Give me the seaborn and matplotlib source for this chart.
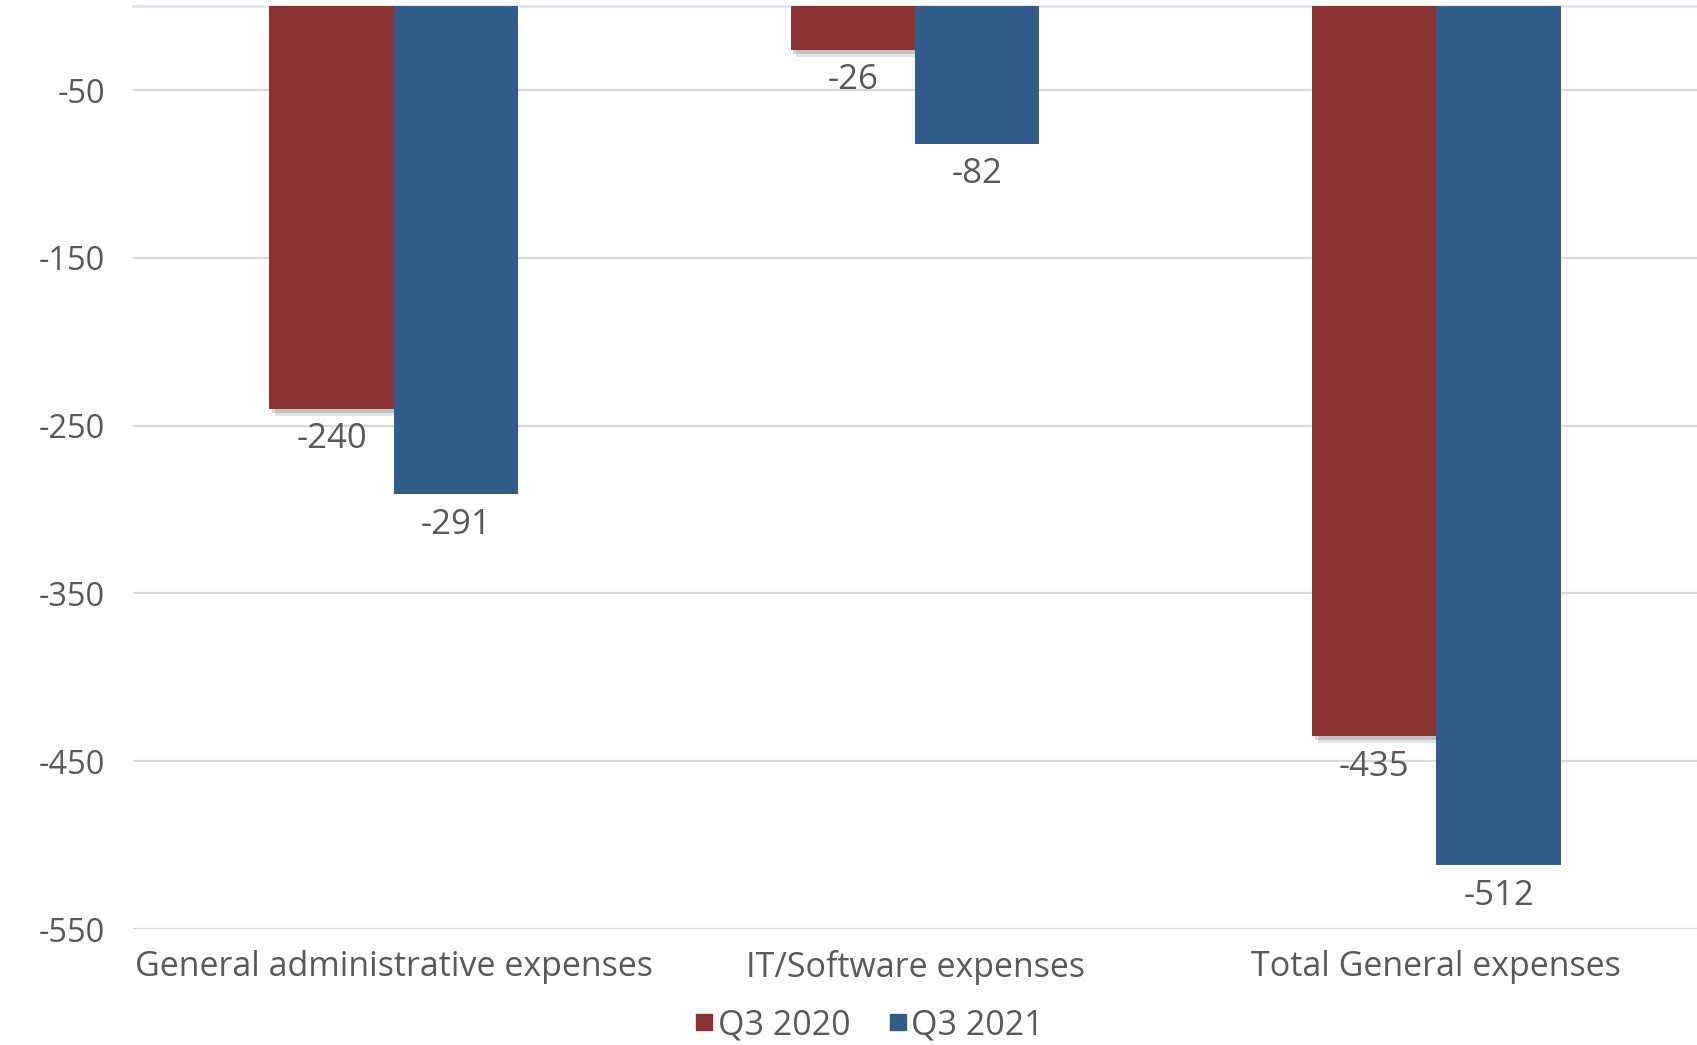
import matplotlib
matplotlib.use("Agg")
import matplotlib.pyplot as plt
import matplotlib.patheffects as pe
from matplotlib.lines import Line2D
import seaborn as sns
import pandas as pd

categories = ["General administrative expenses", "IT/Software expenses", "Total General expenses"]
q3_2020 = [-240, -26, -435]
q3_2021 = [-291, -82, -512]
series_names = ["Q3 2020", "Q3 2021"]
colors = ["#8B3332", "#325C89"]
y_ticks = [-50, -150, -250, -350, -450, -550]

df = pd.DataFrame({
    "category": categories * 2,
    "series": [series_names[0]] * 3 + [series_names[1]] * 3,
    "value": q3_2020 + q3_2021,
})

sns.set_theme(style="white")
plt.rcParams["font.family"] = ["Open Sans", "DejaVu Sans"]
plt.rcParams["axes.unicode_minus"] = False
text_color = "#595959"

fig = plt.figure(figsize=(16.97, 10.45), dpi=100)
ax = fig.add_axes([0.0784, 0.111, 0.9216, 0.883])

sns.barplot(data=df, x="category", y="value", hue="series", order=categories,
            hue_order=series_names, palette=colors, width=0.477, saturation=1,
            linewidth=0, legend=False, ax=ax, zorder=3)

ax.set_ylim(-550, 0)
ax.set_xlim(-0.5, 2.5)
ax.set_yticks(y_ticks)
ax.yaxis.grid(True, color="#d9d9d9", linewidth=1.6, zorder=0)
ax.set_axisbelow(True)
for side in ["left", "right", "bottom"]:
    ax.spines[side].set_visible(False)
ax.spines["top"].set_color("#dce6f2")
ax.spines["top"].set_linewidth(2)

ax.tick_params(axis="both", length=0, labelcolor=text_color)
ax.tick_params(axis="y", pad=20, labelsize=23.5)
ax.tick_params(axis="x", pad=15, labelsize=24.5)
ax.set_xlabel("")
ax.set_ylabel("")

# soft drop shadow on the Q3 2020 bars, value labels below every bar end
for container, name in zip(ax.containers, series_names):
    for bar in container:
        if name == series_names[0]:
            bar.set_path_effects([
                pe.SimplePatchShadow(offset=(4, -5), alpha=0.12, shadow_rgbFace="#333333"),
                pe.SimplePatchShadow(offset=(2, -3), alpha=0.2, shadow_rgbFace="#333333"),
                pe.Normal()])
        val = bar.get_height()
        ax.annotate(f"{val:.0f}", (bar.get_x() + bar.get_width() / 2, val),
                    xytext=(0, -22), textcoords="offset points",
                    ha="center", va="center", fontsize=25, color=text_color)

handles = [Line2D([0], [0], marker="s", linestyle="", markersize=12,
                  markerfacecolor=c, markeredgecolor=c) for c in colors]
fig.legend(handles, series_names, loc="center", bbox_to_anchor=(0.51, 0.019),
           ncol=2, frameon=False, fontsize=24.5, labelcolor=text_color,
           handletextpad=-0.1, columnspacing=0.9, handlelength=1.0)

fig.savefig("out.png", dpi=100, facecolor="white")
